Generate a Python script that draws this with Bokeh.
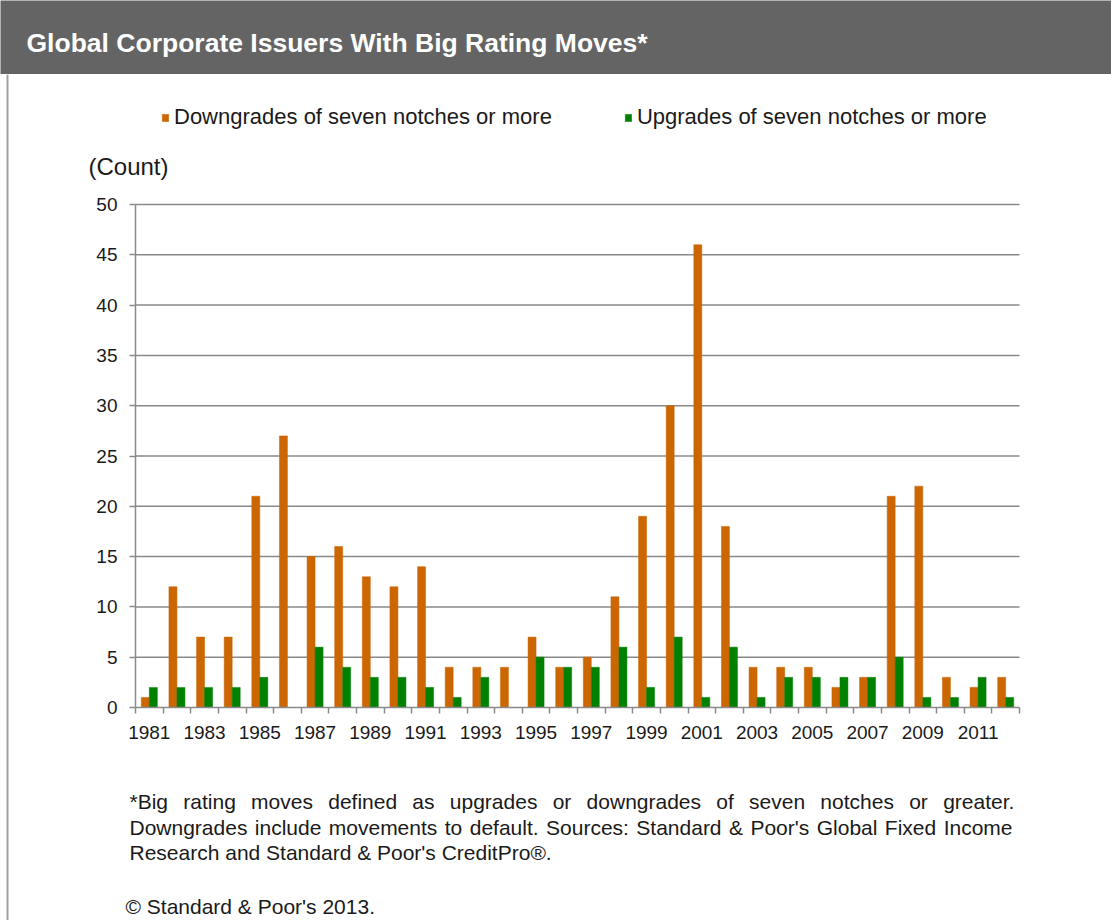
from bokeh.plotting import figure
from bokeh.models import (ColumnDataSource, Range1d, FixedTicker, Label, Legend, LegendItem,
                          LinearAxis, Span)
from bokeh.layouts import column
from bokeh.transform import dodge
from bokeh.embed import file_html
from bokeh.resources import INLINE

# ---------------- data ----------------
years = list(range(1981, 2013))
downgrades = [1, 12, 7, 7, 21, 27, 15, 16, 13, 12, 14, 4, 4, 4, 7, 4, 5, 11, 19, 30,
              46, 18, 4, 4, 4, 2, 3, 21, 22, 3, 2, 3]
upgrades = [2, 2, 2, 2, 3, 0, 6, 4, 3, 3, 2, 1, 3, 0, 5, 4, 4, 6, 2, 7,
            1, 6, 1, 3, 3, 3, 3, 5, 1, 1, 3, 1]
tick_years = list(range(1981, 2012, 2))
tick_labels = [str(y) for y in tick_years]
y_ticks = list(range(0, 51, 5))

series_names = ["Downgrades of seven notches or more", "Upgrades of seven notches or more"]
title_text = "Global Corporate Issuers  With Big Rating Moves*"
y_label = "(Count)"
note_lines = [
    "*Big rating moves defined as upgrades or downgrades of seven notches or greater.",
    "Downgrades include movements to default. Sources: Standard & Poor's Global Fixed Income",
    "Research and Standard & Poor's CreditPro®.",
]
copyright_text = "© Standard & Poor's 2013."

ORANGE = "#CC6600"
GREEN = "#008000"
FONT = "Liberation Sans"
TXT = "#1a1a1a"
GRID = "#8a8a8a"

W = 1111
TH = 74          # title bar height
H = 846          # chart area height

# ---------------- title bar ----------------
tf = figure(width=W, height=TH, output_backend="svg", toolbar_location=None,
            x_axis_type=None, y_axis_type=None, x_range=Range1d(0, 1), y_range=Range1d(0, 1),
            min_border=0, background_fill_color="#646464", border_fill_color="#646464",
            outline_line_color=None)
tf.add_layout(Label(x=26, y=32, x_units="screen", y_units="screen", text=title_text,
                    text_font=FONT, text_font_size="26.5px", text_font_style="bold",
                    text_color="white", text_baseline="middle"))

# ---------------- main chart ----------------
FL, FR, FT, FB = 135, 1019, 130, 633          # plot area in figure pixels
x_lo, x_hi = years[0] - 0.5, years[-1] + 0.5
y_lo, y_hi = y_ticks[0], y_ticks[-1]
ppx = (FR - FL) / (x_hi - x_lo)
ppy = (FB - FT) / (y_hi - y_lo)
x_range = Range1d(x_lo - FL / ppx, x_hi + (W - FR) / ppx)
y_range = Range1d(y_lo - (H - FB) / ppy, y_hi + FT / ppy)

src = ColumnDataSource(dict(year=years, down=downgrades, up=upgrades))

p = figure(width=W, height=H, output_backend="svg", toolbar_location=None,
           x_range=x_range, y_range=y_range, x_axis_type=None, y_axis_type=None,
           min_border=0, outline_line_color=None,
           background_fill_color="white", border_fill_color="white")

# horizontal gridlines
p.segment(x0=[x_lo] * (len(y_ticks) - 1), x1=[x_hi] * (len(y_ticks) - 1),
          y0=y_ticks[1:], y1=y_ticks[1:], line_color=GRID, line_width=1.5)

bw = 0.29
r_down = p.vbar(x=dodge("year", -bw / 2, range=p.x_range), top="down", width=bw, source=src,
                fill_color=ORANGE, line_color=ORANGE, line_width=0.5)
r_up = p.vbar(x=dodge("year", bw / 2, range=p.x_range), top="up", width=bw, source=src,
              fill_color=GREEN, line_color=GREEN, line_width=0.5)

# y axis
yax = LinearAxis(fixed_location=x_lo, bounds=(y_lo, y_hi), ticker=FixedTicker(ticks=y_ticks))
yax.axis_line_color = GRID
yax.axis_line_width = 1.5
yax.major_tick_line_color = GRID
yax.major_tick_line_width = 1.5
yax.major_tick_out = 6
yax.major_tick_in = 0
yax.minor_tick_line_color = None
yax.major_label_standoff = 12
yax.major_label_text_font = FONT
yax.major_label_text_font_size = "19px"
yax.major_label_text_color = TXT
p.add_layout(yax, "left")

# x axis
boundaries = [y - 0.5 for y in years] + [years[-1] + 0.5]
xax = LinearAxis(fixed_location=y_lo, bounds=(x_lo, x_hi),
                 ticker=FixedTicker(ticks=tick_years, minor_ticks=boundaries))
xax.major_label_overrides = {y: l for y, l in zip(tick_years, tick_labels)}
xax.axis_line_color = GRID
xax.axis_line_width = 1.5
xax.major_tick_line_color = None
xax.major_tick_out = 0
xax.major_tick_in = 0
xax.minor_tick_line_color = GRID
xax.minor_tick_line_width = 1.5
xax.minor_tick_out = 6
xax.minor_tick_in = 0
xax.major_label_standoff = 12
xax.major_label_text_font = FONT
xax.major_label_text_font_size = "19px"
xax.major_label_text_color = TXT
p.add_layout(xax, "below")

# left frame border
p.add_layout(Span(location=x_range.start + 7 / ppx, dimension="height",
                  line_color="#a0a0a0", line_width=2))

# legend
legend = Legend(items=[LegendItem(label=series_names[0], renderers=[r_down]),
                       LegendItem(label=series_names[1], renderers=[r_up])],
                orientation="horizontal", location=(161, 790),
                glyph_width=8, glyph_height=9, label_standoff=5, spacing=72,
                padding=0, margin=0, border_line_color=None, background_fill_alpha=0,
                label_text_font=FONT, label_text_font_size="22px", label_text_color=TXT)
p.add_layout(legend)

# (Count)
p.add_layout(Label(x=88, y=754, x_units="screen", y_units="screen", text=y_label,
                   text_font=FONT, text_font_size="24px", text_color=TXT, text_baseline="middle"))

# footnotes (justified lines placed word by word)
AW = {' ': 278, 'a': 556, 'b': 556, 'c': 500, 'd': 556, 'e': 556, 'f': 278, 'g': 556, 'h': 556,
      'i': 222, 'j': 222, 'k': 500, 'l': 222, 'm': 833, 'n': 556, 'o': 556, 'p': 556, 'q': 556,
      'r': 333, 's': 500, 't': 278, 'u': 556, 'v': 500, 'w': 722, 'x': 500, 'y': 500, 'z': 500,
      'B': 667, 'D': 722, 'S': 667, 'P': 667, 'G': 778, 'F': 611, 'I': 278, 'R': 722, 'C': 722,
      '*': 389, '.': 278, ':': 278, "'": 191, '&': 667}
FS = 21


def tw(s):
    return sum(AW.get(c, 556) for c in s) * FS / 1000.0


def add_text(text, x, y):
    p.add_layout(Label(x=x, y=y, x_units="screen", y_units="screen", text=text,
                       text_font=FONT, text_font_size=f"{FS}px", text_color=TXT,
                       text_baseline="middle"))


def place_line(text, y, x0, x1=None):
    if x1 is None:
        add_text(text, x0, y)
        return
    words = text.split(" ")
    widths = [tw(w) for w in words]
    gap = (x1 - x0 - sum(widths)) / (len(words) - 1)
    x = x0
    for w, wd in zip(words, widths):
        add_text(w, x, y)
        x += wd + gap


place_line(note_lines[0], 119, 129, 1015)
place_line(note_lines[1], 93, 129, 1012)
place_line(note_lines[2], 68, 129)
add_text(copyright_text, 125, 14)

layout = column(tf, p, spacing=0)
open("out.html", "w").write(file_html(layout, INLINE))
